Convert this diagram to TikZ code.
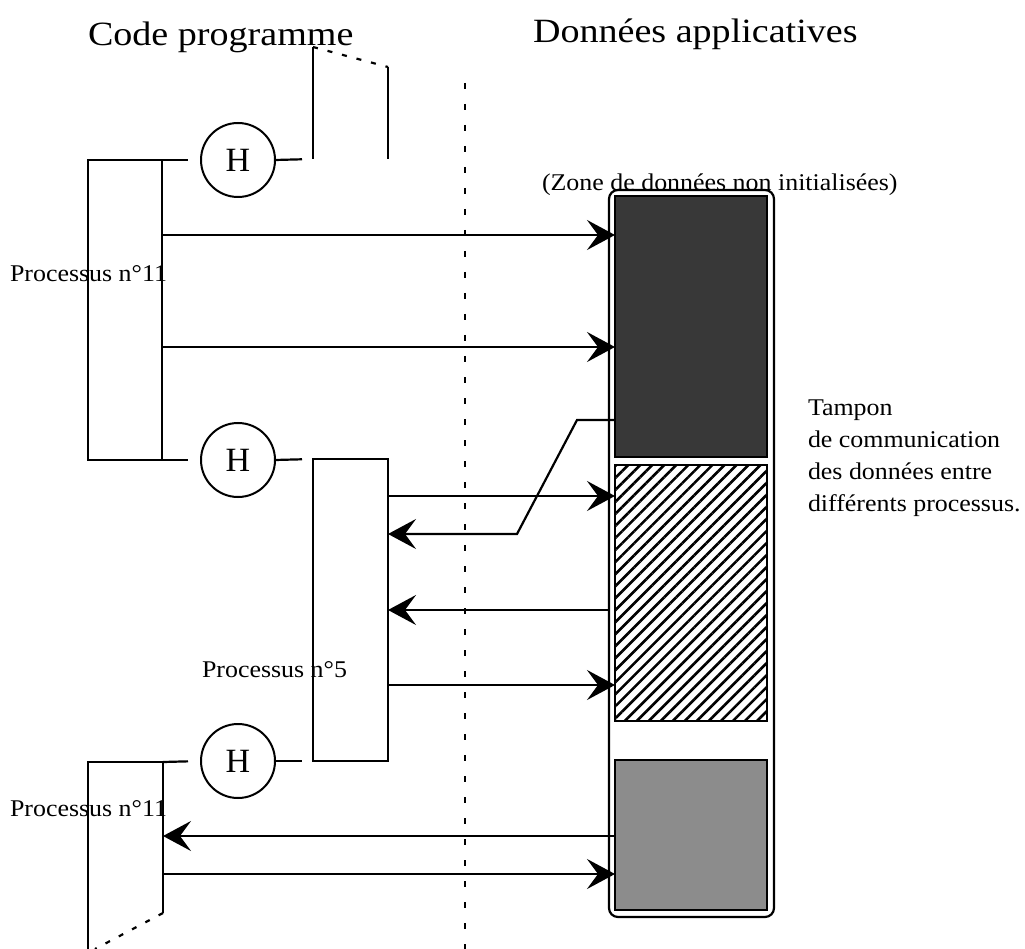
\documentclass[tikz,border=0pt]{standalone}
\usepackage{fontspec}
\setmainfont{Liberation Serif}
\newfontfamily\smallfont[FakeStretch=1.08]{Liberation Serif}
\newfontfamily\bigfont[FakeStretch=1.12]{Liberation Serif}
\usetikzlibrary{arrows.meta,patterns.meta}
\begin{document}
\begin{tikzpicture}[x=1pt,y=-1pt,
  every node/.style={inner sep=0pt,outer sep=0pt},
  ln/.style={line width=2.2pt},
  arr/.style={line width=2.2pt,-{Stealth[length=28pt,width=30pt,inset=11pt]}},
  procbox/.style={draw,line width=2.2pt,rectangle},
  hnode/.style={draw,circle,line width=2pt,minimum size=74pt,font=\fontsize{34}{34}\selectfont},
  lbl/.style={font=\smallfont\fontsize{24}{32}\selectfont},
  titletext/.style={font=\bigfont\fontsize{34}{40}\selectfont},
  zonebox/.style={draw,line width=2.2pt}]
\useasboundingbox (0,0) rectangle (1025,949);
\fill[white] (0,0) rectangle (1025,949);

% titles
\node[titletext,anchor=base west] (tcode) at (88,46) {Code programme};
\node[titletext,anchor=base west] (tdata) at (533,43) {Données applicatives};

% separator
\coordinate (sepT) at (465,83);
\coordinate (sepB) at (465,949);
\draw[line width=2.4pt,dash pattern=on 6pt off 15pt] (sepT) -- (sepB);

% H nodes
\node[hnode] (h1) at (238,160) {H};
\node[hnode] (h2) at (238,460) {H};
\node[hnode] (h3) at (238,761) {H};

% process boxes
\node[procbox,minimum width=74pt,minimum height=300pt] (p11) at (125,310) {};
\node[procbox,minimum width=75pt,minimum height=302pt] (p5) at (350.5,610) {};

% top partial box
\coordinate (ta) at (313,47);
\coordinate (tb) at (313,159);
\coordinate (tc) at (388,67);
\coordinate (td) at (388,159);
\draw[ln] (tb) -- (ta);
\draw[ln,dash pattern=on 5pt off 10pt] (ta) -- (tc);
\draw[ln] (tc) -- (td);

% bottom partial box
\coordinate (bl) at (88,949);
\coordinate (btl) at (88,762);
\coordinate (btr) at (163,762);
\coordinate (bbr) at (163,913);
\coordinate (bend) at (95,949);
\draw[ln] (bl) -- (btl) -- (btr) -- (bbr);
\draw[ln,dash pattern=on 5pt off 10pt] (bbr) -- (bend);

% links to H
\draw[ln,shorten >=13pt] (p11.north east) -- (h1.west);
\draw[ln,shorten >=11pt] (h1.east) -- (tb);
\draw[ln,shorten >=13pt] (p11.south east) -- (h2.west);
\draw[ln,shorten >=11pt] (h2.east) -- (p5.north west);
\draw[ln,shorten >=13pt] (btr) -- (h3.west);
\draw[ln,shorten >=11pt] (h3.east) -- (p5.south west);

% data block
\node[draw,line width=2.2pt,rounded corners=9pt,minimum width=165pt,minimum height=727pt] (buf) at (691.5,553.5) {};
\node[zonebox,fill=black!78,minimum width=152pt,minimum height=261pt] (dark) at (691,326.5) {};
\node[zonebox,pattern={Lines[angle=45,distance=8.5pt,line width=2.6pt]},minimum width=152pt,minimum height=256pt] (hatch) at (691,593) {};
\node[zonebox,fill=black!45,minimum width=152pt,minimum height=150pt] (dots) at (691,835) {};

% labels
\node[lbl,anchor=base west] (lzone) at (542,191) {(Zone de données non initialisées)};
\node[lbl,anchor=base west] (l11a) at (10,282) {Processus n°11};
\node[lbl,anchor=base west] (l5) at (202,677) {Processus n°5};
\node[lbl,anchor=base west] (l11b) at (10,816) {Processus n°11};
\node[lbl,anchor=north west,align=left] (ltamp) at (808,400) {Tampon\\de communication\\des données entre\\différents processus.};

% arrows
\draw[arr] (p11.east |- 0,235) -- (dark.west |- 0,235);
\draw[arr] (p11.east |- 0,347) -- (dark.west |- 0,347);
\coordinate (k1) at (577,420);
\coordinate (k2) at (517,534);
\draw[arr] (dark.west |- 0,420) -- (k1) -- (k2) -- (p5.east |- 0,534);
\draw[arr] (p5.east |- 0,496) -- (hatch.west |- 0,496);
\draw[arr] (buf.west |- 0,610) -- (p5.east |- 0,610);
\draw[arr] (p5.east |- 0,685) -- (hatch.west |- 0,685);
\draw[arr] (dots.west |- 0,836) -- (btr |- 0,836);
\draw[arr] (btr |- 0,874) -- (dots.west |- 0,874);
\end{tikzpicture}
\end{document}
